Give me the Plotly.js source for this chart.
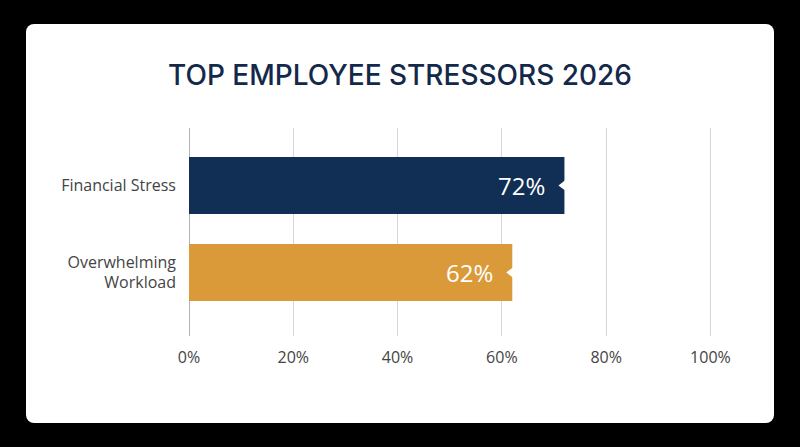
<!DOCTYPE html>
<html>
<head>
<meta charset="utf-8">
<script src="https://cdn.plot.ly/plotly-3.0.1.min.js"></script>
<style>
  html, body { margin: 0; padding: 0; background: #000; width: 800px; height: 447px; overflow: hidden; }
  #card {
    position: absolute; left: 26px; top: 24px; width: 748px; height: 399px;
    background: #fff; border-radius: 8px; overflow: hidden;
  }
  #chart { width: 748px; height: 399px; }
</style>
</head>
<body>
<div id="card"><div id="chart"></div></div>
<script>
const categories = ['Financial Stress', 'Overwhelming<br>Workload'];
const values = [72, 62];
const barColors = ['#112e54', '#da9a3a'];
const valueLabels = ['72%', '62%'];
const tickValues = [0, 20, 40, 60, 80, 100];
const tickLabels = ['0%', '20%', '40%', '60%', '80%', '100%'];

const bars = {
  type: 'bar',
  orientation: 'h',
  x: values,
  y: categories,
  marker: { color: barColors, line: { width: 0 } },
  width: 0.655,
  hoverinfo: 'skip'
};

// small white notch at the end of each bar
const notches = {
  type: 'scatter',
  mode: 'markers',
  x: values,
  y: categories,
  marker: { symbol: 'triangle-left', size: 12, color: '#ffffff', line: { width: 0 } },
  hoverinfo: 'skip',
  cliponaxis: false
};

const annotations = values.map((v, i) => ({
  x: v,
  y: categories[i],
  text: valueLabels[i],
  showarrow: false,
  xanchor: 'right',
  xshift: -17,
  font: { family: 'Open Sans', size: 24, color: '#ffffff', weight: 400 }
}));

const layout = {
  width: 748,
  height: 399,
  margin: { l: 163, r: 62, t: 104, b: 87 },
  paper_bgcolor: 'rgba(0,0,0,0)',
  plot_bgcolor: 'rgba(0,0,0,0)',
  showlegend: false,
  hovermode: false,
  title: {
    text: 'TOP EMPLOYEE STRESSORS 2026',
    x: 0.5,
    xanchor: 'center',
    y: 0.872,
    yanchor: 'middle',
    font: { family: 'Inter', size: 28, color: '#14294a', weight: 500 }
  },
  xaxis: {
    range: [0, 100.3],
    tickvals: tickValues,
    ticktext: tickLabels,
    showgrid: true,
    gridcolor: '#d6d6d6',
    gridwidth: 1,
    zeroline: false,
    showline: false,
    ticks: '',
    ticklabelstandoff: 10,
    tickfont: { family: 'Open Sans', size: 16, color: '#444444' },
    fixedrange: true
  },
  yaxis: {
    type: 'category',
    categoryorder: 'array',
    categoryarray: [categories[1], categories[0]],
    range: [-0.73, 1.66],
    showgrid: false,
    zeroline: false,
    showline: false,
    ticks: '',
    ticklabelstandoff: 12,
    tickfont: { family: 'Open Sans', size: 16, color: '#444444' },
    fixedrange: true
  },
  shapes: [{
    type: 'line', xref: 'x', yref: 'paper',
    x0: 0, x1: 0, y0: 0, y1: 1,
    line: { color: '#9a9a9a', width: 1.5 },
    layer: 'below'
  }],
  annotations: annotations
};

Plotly.newPlot('chart', [bars, notches], layout, { displayModeBar: false, staticPlot: true });
</script>
</body>
</html>
